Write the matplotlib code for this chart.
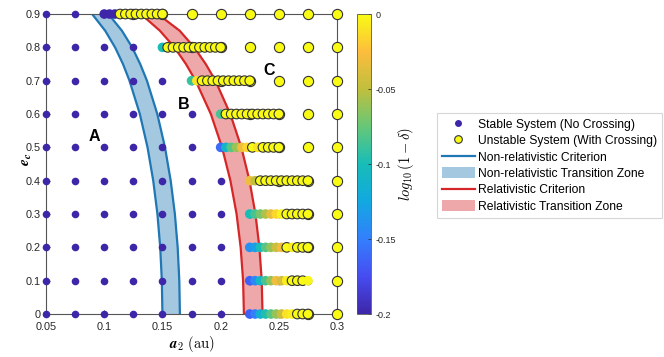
import numpy as np
import matplotlib
matplotlib.use("Agg")
import matplotlib.pyplot as plt
from matplotlib.colors import LinearSegmentedColormap, Normalize
from matplotlib.cm import ScalarMappable
from matplotlib.lines import Line2D
from matplotlib.patches import Patch

# ---------- data ----------
a_coarse = [0.05, 0.075, 0.1, 0.125, 0.15, 0.175, 0.2, 0.225, 0.25, 0.275, 0.3]
e_rows = [0.0, 0.1, 0.2, 0.3, 0.4, 0.5, 0.6, 0.7, 0.8, 0.9]
# first coarse a2 (per e_c row) that is unstable
a_unstable_from = [0.275, 0.3, 0.275, 0.275, 0.25, 0.25, 0.225, 0.2, 0.175, 0.125]

# refined scan: 12 points over 0.05 au starting at fine_start, per row
fine_start = [0.225, 0.225, 0.225, 0.225, 0.225, 0.2, 0.2, 0.175, 0.15, 0.1]
fine_logd = [
    [-0.165, -0.15, -0.115, -0.097, -0.08, -0.062, -0.045, -0.01, -0.005, 0, 0, 0],
    [-0.165, -0.145, -0.11, -0.085, -0.062, -0.03, -0.04, -0.005, 0, 0, 0, -0.002],
    [-0.14, -0.13, -0.1, -0.08, -0.062, -0.045, -0.03, 0, -0.005, 0, 0, 0],
    [-0.1, -0.085, -0.07, -0.055, -0.035, -0.015, -0.003, 0, 0, 0, 0, 0],
    [-0.03, -0.05, 0, 0, 0, 0, 0, 0, 0, 0, 0, 0],
    [-0.16, -0.11, -0.08, -0.06, -0.03, -0.015, 0, -0.01, 0, 0, 0, 0],
    [-0.085, 0, 0, 0, 0, 0, 0, 0, 0, 0, 0, 0],
    [-0.09, -0.01, 0, 0, 0, 0, 0, 0, 0, 0, 0, 0],
    [-0.1, 0, 0, 0, 0, 0, 0, 0, 0, 0, 0, 0],
    [-0.2, -0.2, -0.2, 0, 0, 0, 0, 0, 0, 0, 0, 0],
]
fine_cross = [
    [0, 0, 0, 0, 0, 0, 0, 0, 0, 1, 1, 1],
    [0, 0, 0, 0, 0, 0, 0, 0, 1, 1, 1, 0],
    [0, 0, 0, 0, 0, 0, 0, 1, 0, 1, 1, 1],
    [0, 0, 0, 0, 0, 0, 0, 1, 1, 1, 1, 1],
    [0, 0, 1, 1, 1, 1, 1, 1, 1, 1, 1, 1],
    [0, 0, 0, 0, 0, 0, 1, 0, 1, 1, 1, 1],
    [0, 1, 1, 1, 1, 1, 1, 1, 1, 1, 1, 1],
    [0, 0, 1, 1, 1, 1, 1, 1, 1, 1, 1, 1],
    [0, 1, 1, 1, 1, 1, 1, 1, 1, 1, 1, 1],
    [0, 0, 0, 1, 1, 1, 1, 1, 1, 1, 1, 1],
]

# criterion curves a2(e_c): lower / upper edge of each transition zone
e_curve = [0.0, 0.1, 0.2, 0.3, 0.4, 0.5, 0.6, 0.7, 0.75, 0.8, 0.85, 0.9]
nonrel_lo = [0.150, 0.1495, 0.1481, 0.1457, 0.1421, 0.1372, 0.1306, 0.1217, 0.1161, 0.1093, 0.1008, 0.0896]
nonrel_hi = [0.165, 0.1645, 0.1631, 0.1607, 0.1571, 0.1522, 0.1456, 0.1367, 0.1309, 0.1240, 0.1152, 0.1036]
rel_lo = [0.220, 0.2193, 0.2172, 0.2137, 0.2084, 0.2012, 0.1916, 0.1785, 0.1702, 0.1603, 0.1478, 0.1315]
rel_hi = [0.236, 0.2353, 0.2333, 0.2299, 0.2248, 0.2178, 0.2083, 0.1955, 0.1872, 0.1773, 0.1648, 0.1460]

region_labels = ["A", "B", "C"]
region_pos = [(0.0916, 0.532), (0.1684, 0.63), (0.242, 0.732)]

# ---------- style ----------
parula = LinearSegmentedColormap.from_list("parula", [
    (0.000, (0.2422, 0.1504, 0.6603)),
    (0.125, (0.2780, 0.3000, 0.9450)),
    (0.250, (0.2000, 0.5000, 0.9900)),
    (0.375, (0.0700, 0.6600, 0.8800)),
    (0.500, (0.0900, 0.7400, 0.7200)),
    (0.625, (0.4000, 0.7800, 0.4700)),
    (0.750, (0.7500, 0.7500, 0.2400)),
    (0.875, (0.9900, 0.7400, 0.2400)),
    (1.000, (0.9769, 0.9839, 0.0805)),
])
norm = Normalize(-0.2, 0)
stable_c = parula(0.0)
unstable_c = parula(1.0)
blue = "#1f77b4"
red = "#d62728"
edge = "#333333"
sans = "Liberation Sans"

plt.rcParams["font.family"] = sans
plt.rcParams["mathtext.fontset"] = "cm"

fig = plt.figure(figsize=(6.64, 3.57), dpi=100)
ax = fig.add_axes([0.0693, 0.1204, 0.4383, 0.8403])

# ---------- transition zones ----------
ax.fill_betweenx(e_curve, nonrel_lo, nonrel_hi, color=blue, alpha=0.4, lw=0)
ax.plot(nonrel_lo, e_curve, color=blue, lw=1.6)
ax.plot(nonrel_hi, e_curve, color=blue, lw=1.6)
ax.fill_betweenx(e_curve, rel_lo, rel_hi, color=red, alpha=0.4, lw=0)
ax.plot(rel_lo, e_curve, color=red, lw=1.6)
ax.plot(rel_hi, e_curve, color=red, lw=1.6)

# ---------- coarse grid ----------
for e, a_lim in zip(e_rows, a_unstable_from):
    a_st = [a for a in a_coarse if a < a_lim - 1e-9]
    a_un = [a for a in a_coarse if a >= a_lim - 1e-9]
    ax.scatter(a_st, [e] * len(a_st), s=30, color=stable_c, lw=0, clip_on=False, zorder=3)
    ax.scatter(a_un, [e] * len(a_un), s=54, color=unstable_c, edgecolors=edge,
               linewidths=0.8, clip_on=False, zorder=3)

# ---------- refined scan ----------
for e, a0, vals, cross in zip(e_rows, fine_start, fine_logd, fine_cross):
    a_f = np.linspace(a0, a0 + 0.05, len(vals))
    ecs = [edge if c else (0, 0, 0, 0) for c in cross]
    ax.scatter(a_f, [e] * len(vals), s=48, c=vals, cmap=parula, norm=norm,
               edgecolors=ecs, linewidths=0.8, clip_on=False, zorder=4)

for lab, (x, y) in zip(region_labels, region_pos):
    ax.text(x, y, lab, fontsize=11.5, fontweight="bold", ha="center", va="center", zorder=5)

ax.set_xlim(0.05, 0.3)
ax.set_ylim(0, 0.9)
ax.set_xticks([0.05, 0.1, 0.15, 0.2, 0.25, 0.3])
ax.set_xticklabels(["0.05", "0.1", "0.15", "0.2", "0.25", "0.3"])
ax.set_yticks(e_rows)
ax.set_yticklabels(["0", "0.1", "0.2", "0.3", "0.4", "0.5", "0.6", "0.7", "0.8", "0.9"])
ax.tick_params(direction="in", length=3, width=0.6, labelsize=7.8, colors="#262626")
ax.tick_params(axis="x", pad=6)
ax.tick_params(axis="y", pad=4)
for sp in ax.spines.values():
    sp.set_color("#555555")
    sp.set_linewidth(0.8)
ax.set_xlabel(r"$\mathbfit{a}_{\mathbf{2}}\ \mathrm{(au)}$", fontsize=10.5, labelpad=1)
ax.set_ylabel(r"$\mathbfit{e}_{\mathbfit{c}}$", fontsize=11)
ax.yaxis.set_label_coords(-0.042, 0.515)

# ---------- colorbar ----------
cax = fig.add_axes([0.5377, 0.1204, 0.0211, 0.8403])
cb = fig.colorbar(ScalarMappable(norm=norm, cmap=parula), cax=cax)
cb.set_ticks([-0.2, -0.15, -0.1, -0.05, 0])
cb.set_ticklabels(["-0.2", "-0.15", "-0.1", "-0.05", "0"])
cb.ax.tick_params(direction="in", length=2, width=0.5, labelsize=6.5, colors="#262626")
cb.outline.set_edgecolor("#555555")
cb.outline.set_linewidth(0.6)
cb.set_label(r"$log_{10}\,(1-\delta)$", fontsize=10.5, labelpad=0)

# ---------- legend ----------
handles = [
    Line2D([], [], ls="none", marker="o", ms=5, mfc=stable_c, mec="none"),
    Line2D([], [], ls="none", marker="o", ms=5.5, mfc=unstable_c, mec=edge, mew=0.8),
    Line2D([], [], color=blue, lw=1.6),
    Patch(facecolor=blue, alpha=0.4, lw=0),
    Line2D([], [], color=red, lw=1.6),
    Patch(facecolor=red, alpha=0.4, lw=0),
]
labels = ["Stable System (No Crossing)", "Unstable System (With Crossing)",
          "Non-relativistic Criterion", "Non-relativistic Transition Zone",
          "Relativistic Criterion", "Relativistic Transition Zone"]
leg = fig.legend(handles, labels, loc="upper left", bbox_to_anchor=(0.6577, 0.6826),
                 fontsize=8.7, frameon=True, fancybox=False, handlelength=2.8,
                 handleheight=1.0, handletextpad=0.25, labelspacing=0.32,
                 borderpad=0.4, borderaxespad=0)
leg.get_frame().set_edgecolor("#cccccc")
leg.get_frame().set_linewidth(0.8)

fig.savefig("out.png", dpi=100)
